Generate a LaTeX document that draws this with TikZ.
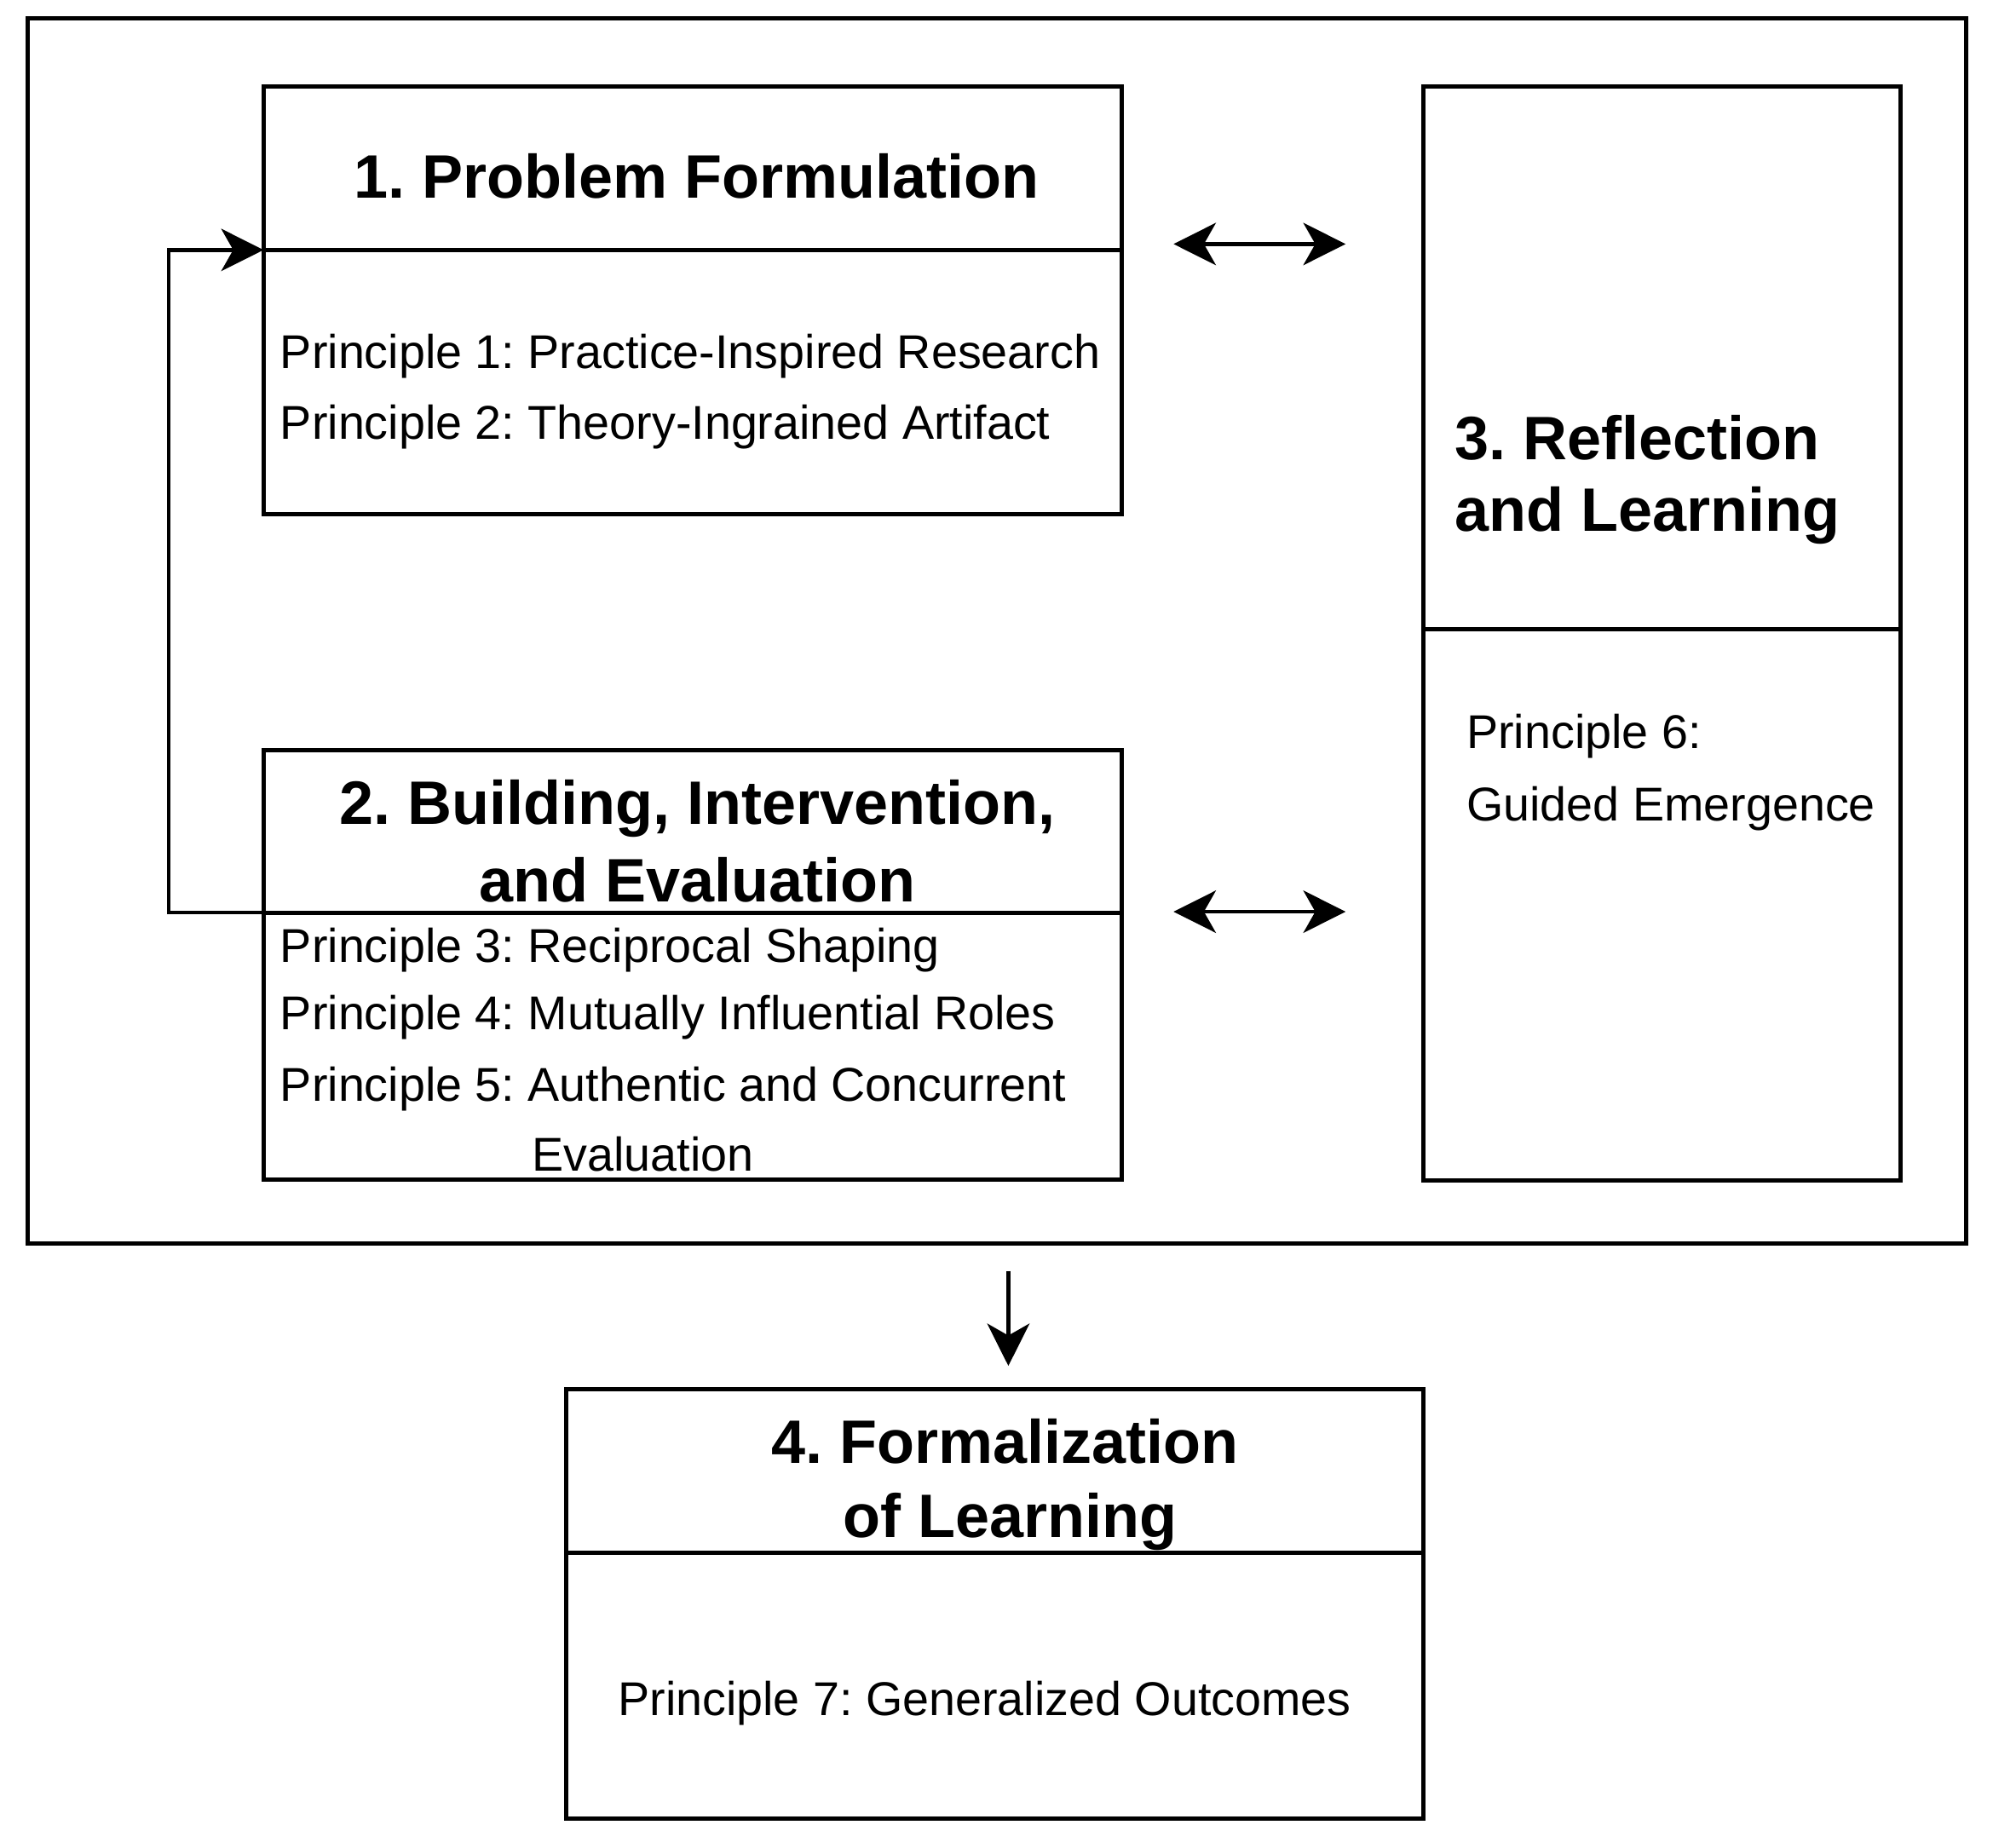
\documentclass[tikz,border=0pt]{standalone}
\usepackage{fontspec}
\setmainfont{Liberation Sans}
\usetikzlibrary{arrows.meta}
\tikzset{
  sect/.style={draw=black, line width=1.25pt, rectangle, inner sep=0pt, outer sep=0pt, anchor=north west},
  ttl/.style={inner sep=0pt, font=\fontsize{18}{22}\selectfont\bfseries},
  body/.style={inner sep=0pt, anchor=west, font=\fontsize{13.92}{17}\selectfont},
  arr/.style={-{Stealth[length=12.4pt,width=12.4pt,inset=3.5pt]}, line width=1.1pt},
  darr/.style={{Stealth[length=12.4pt,width=12.4pt,inset=3.5pt]}-{Stealth[length=12.4pt,width=12.4pt,inset=3.5pt]}, line width=1.1pt}
}
\begin{document}
\frenchspacing
\begin{tikzpicture}[x=0.24862pt,y=-0.24862pt]
\useasboundingbox (0,0) rectangle (2352,2181);
% outer frame
\node[sect, minimum width=568.6pt, minimum height=359.5pt] (outer) at (33,22) {};
% box 1
\node[sect, minimum width=251.85pt, minimum height=47.98pt] (t1) at (311,102) {};
\node[sect, minimum width=251.85pt, minimum height=77.57pt] (b1) at (311,295) {};
% box 2
\node[sect, minimum width=251.85pt, minimum height=47.74pt] (t2) at (311,885) {};
\node[sect, minimum width=251.85pt, minimum height=78.32pt] (b2) at (311,1077) {};
% box 3
\node[sect, minimum width=139.97pt, minimum height=159.37pt] (t3) at (1680,102) {};
\node[sect, minimum width=139.97pt, minimum height=161.6pt] (b3) at (1680,743) {};
% box 4
\node[sect, minimum width=251.6pt, minimum height=47.98pt] (t4) at (668,1640) {};
\node[sect, minimum width=251.6pt, minimum height=77.82pt] (b4) at (668,1833) {};

% texts
\node[ttl] (h1) at (822,208) {1. Problem Formulation};
\node[body] (p1) at (330,420) {Principle 1: Practice-Inspired Research};
\node[body] (p2) at (330,504) {Principle 2: Theory-Ingrained Artifact};

\node[ttl] (h2a) at (823,954) {2. Building, Intervention,};
\node[ttl] (h2b) at (823,1038) {and Evaluation};
\node[body] (p3) at (330,1121) {Principle 3: Reciprocal Shaping};
\node[body] (p4) at (330,1201) {Principle 4: Mutually Influential Roles};
\node[body] (p5) at (330,1285) {Principle 5: Authentic and Concurrent};
\node[body] (p5b) at (627,1362) {Evaluation};

\node[ttl, anchor=west] (h3a) at (1716,517) {3. Reflection};
\node[ttl, anchor=west] (h3b) at (1716,608) {and Learning};
\node[body] (p6a) at (1730,869) {Principle 6:};
\node[body] (p6b) at (1730,954) {Guided Emergence};

\node[ttl] (h4a) at (1186,1701) {4. Formalization};
\node[ttl] (h4b) at (1192,1796) {of Learning};
\node[body, anchor=center] (p7) at (1162,2010) {Principle 7: Generalized Outcomes};

% connectors
\coordinate (fb) at (199,0);
\draw[arr] (t2.south west) -- (t2.south west -| fb) |- (t1.south west);

\coordinate (a1l) at (1385,288);
\coordinate (a1r) at (1588,288);
\draw[darr] (a1l) -- (a1r);
\coordinate (a2l) at (1385,1076);
\coordinate (a2r) at (1588,1076);
\draw[darr] (a2l) -- (a2r);

\coordinate (d1) at (1190,1500);
\coordinate (d2) at (1190,1612);
\draw[arr] (d1) -- (d2);
\end{tikzpicture}
\end{document}
